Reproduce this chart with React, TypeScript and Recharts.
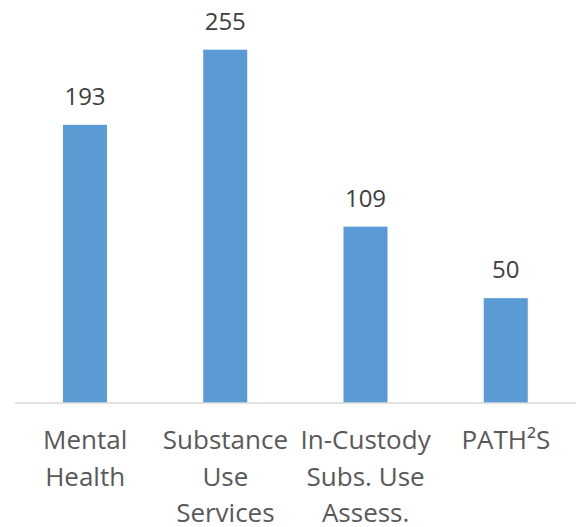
import React from "react";
import { BarChart, Bar, XAxis, YAxis, LabelList } from "recharts";

// Program names (line breaks mark where each axis label wraps)
const categories: string[] = [
  "Mental\nHealth",
  "Substance\nUse\nServices",
  "In-Custody\nSubs. Use\nAssess.",
  "PATH²S",
];

// Number served per program
const counts: number[] = [193, 255, 109, 50];

// Value axis range (the axis itself is not drawn)
const valueDomain: [number, number] = [-36.5, 279.5];

const BAR_COLOR = "#5B9BD5";
const VALUE_COLOR = "#404040";
const CATEGORY_COLOR = "#595959";
const FONT = "'Open Sans', 'Noto Sans', sans-serif";

const data = categories.map((name, i) => ({ name, count: counts[i] }));

// Column that runs from its value down to the floor of the plot area
const ColumnShape = (props: any) => {
  const { x, y, width, height, background, fill } = props;
  const bottom = background ? background.y + background.height : y + height;
  return <rect x={x} y={y} width={width} height={Math.max(0, bottom - y)} fill={fill} />;
};

// Multi-line category label centred under each column
const CategoryTick = (props: any) => {
  const { x, y, payload } = props;
  const lines = String(payload.value).split("\n");
  return (
    <text
      x={x}
      y={y}
      textAnchor="middle"
      fill={CATEGORY_COLOR}
      fontFamily={FONT}
      fontSize={26}
    >
      {lines.map((line, i) => (
        <tspan key={i} x={x} dy={i === 0 ? 46 : 36.5}>
          {line}
        </tspan>
      ))}
    </text>
  );
};

export default function App() {
  return (
    <div style={{ position: "absolute", left: 0, top: 0, background: "#fff" }}>
      <BarChart
        width={576}
        height={527}
        data={data}
        margin={{ top: 20, right: 0, bottom: 0, left: 15 }}
      >
        <XAxis
          dataKey="name"
          axisLine={{ stroke: "#D9D9D9", strokeWidth: 1.5 }}
          tickLine={false}
          tickSize={0}
          tickMargin={0}
          height={124}
          interval={0}
          tick={<CategoryTick />}
        />
        <YAxis hide domain={valueDomain} allowDataOverflow />
        <Bar
          dataKey="count"
          fill={BAR_COLOR}
          barSize={44}
          shape={<ColumnShape />}
          isAnimationActive={false}
        >
          <LabelList
            dataKey="count"
            position="top"
            offset={20}
            fill={VALUE_COLOR}
            fontFamily={FONT}
            fontSize={24}
          />
        </Bar>
      </BarChart>
    </div>
  );
}
